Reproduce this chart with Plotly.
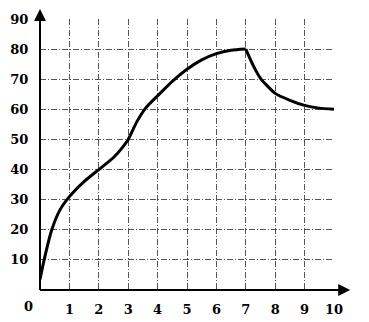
import plotly.graph_objects as go

x_rise = [0.0, 0.14, 0.4, 0.68, 1.0, 1.5, 2.0, 2.5, 2.8, 3.0, 3.3, 3.6, 4.0, 4.5, 5.0, 5.5, 6.0, 6.5, 7.0]
y_rise = [3.5, 10, 20, 26.6, 31, 36, 40, 44, 47.3, 50, 56, 60.5, 64.5, 69.3, 73.3, 76.4, 78.5, 79.6, 80]
x_fall = [7.0, 7.25, 7.5, 8.0, 8.5, 9.0, 9.5, 10.0]
y_fall = [80, 74.6, 70.3, 65.3, 63, 61.3, 60.4, 60]
x_ticks = [1, 2, 3, 4, 5, 6, 7, 8, 9, 10]
y_ticks = [10, 20, 30, 40, 50, 60, 70, 80, 90]

FONT = dict(family="DejaVu Serif", size=13, color="black", weight="bold")
GRID = "#555555"

fig = go.Figure()
for xs, ys in [(x_rise, y_rise), (x_fall, y_fall)]:
    fig.add_trace(go.Scatter(x=xs, y=ys, mode="lines",
                             line=dict(color="black", width=3, shape="spline", smoothing=0.6),
                             hoverinfo="skip", showlegend=False))

# the page puts the figure 8px from the top-left corner
fig.update_layout(
    width=361, height=314,
    margin=dict(l=32, r=35, t=11, b=32),
    paper_bgcolor="white", plot_bgcolor="white",
    showlegend=False,
    xaxis=dict(range=[0, 10], tickvals=x_ticks, ticktext=[str(v) for v in x_ticks],
               showgrid=True, gridcolor=GRID, gridwidth=1, griddash="6px,2px,1px,2px",
               zeroline=False, showline=False, ticks="outside", ticklen=7, tickcolor="white",
               tickfont=FONT, fixedrange=True, automargin=False),
    yaxis=dict(range=[0, 90], tickvals=y_ticks, ticktext=[str(v) for v in y_ticks],
               showgrid=True, gridcolor=GRID, gridwidth=1, griddash="6px,2px,1px,2px",
               zeroline=False, showline=False, ticks="outside", ticklen=8, tickcolor="white",
               tickfont=FONT, fixedrange=True, automargin=False),
)

# axes with arrows
fig.add_shape(type="line", xref="paper", yref="paper", x0=0, y0=0, x1=1.04, y1=0,
              line=dict(color="black", width=2))
fig.add_shape(type="line", xref="paper", yref="paper", x0=0, y0=0, x1=0, y1=1.03,
              line=dict(color="black", width=2))
fig.add_annotation(xref="paper", yref="paper", x=1.055, y=0, ax=-14, ay=0,
                   showarrow=True, arrowhead=2,
                   arrowsize=1.2, arrowwidth=2, arrowcolor="black", text="")
fig.add_annotation(xref="paper", yref="paper", x=0, y=1.05, ax=0, ay=14,
                   showarrow=True, arrowhead=2,
                   arrowsize=1.2, arrowwidth=2, arrowcolor="black", text="")
fig.add_annotation(xref="x", yref="paper", x=0, y=0, text="0", showarrow=False,
                   xanchor="center", yanchor="top", xshift=-12, yshift=-7, font=FONT)

fig.write_html("out.html")
